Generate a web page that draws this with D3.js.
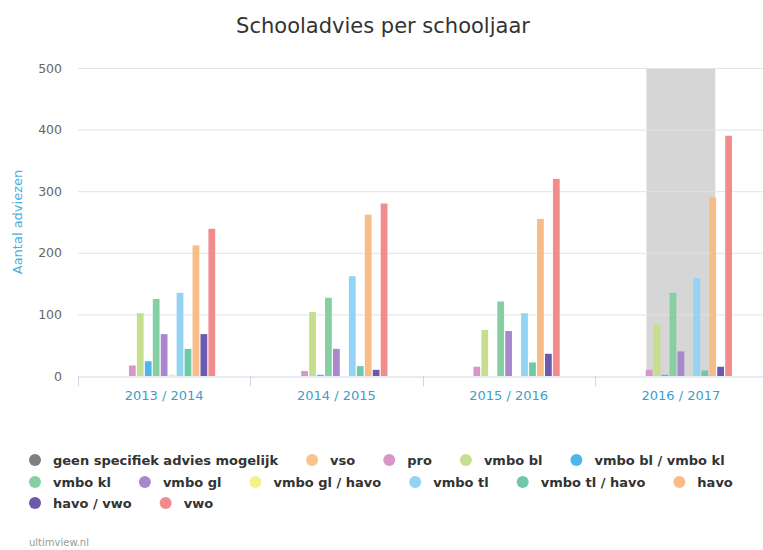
<!DOCTYPE html>
<html><head><meta charset="utf-8">
<script src="https://cdn.jsdelivr.net/npm/d3@7/dist/d3.min.js"></script>
<style>body{margin:0;background:#fff}svg{display:block}</style>
</head><body><svg id="c" width="763" height="550"></svg>
<script>
const categories = ["2013 / 2014", "2014 / 2015", "2015 / 2016", "2016 / 2017"];
const seriesNames = ["geen specifiek advies mogelijk","vso","pro","vmbo bl","vmbo bl / vmbo kl","vmbo kl","vmbo gl","vmbo gl / havo","vmbo tl","vmbo tl / havo","havo","havo / vwo","vwo"];
const seriesColors = ["#7f7f7f","#f9c38c","#d994c8","#c6df8f","#4db6ea","#86cfa2","#a887cc","#f2f28b","#93d4f5","#70c9a6","#f8bd86","#6c58ac","#f28b8c"];
// values per series, per school year
const geen   = [0, 0, 0, 0];
const vso    = [0, 0, 0, 0];
const pro    = [17, 8, 15, 10];
const vmboBl = [102, 104, 75, 84];
const vmboBlKl = [24, 2, 0, 2];
const vmboKl = [125, 127, 121, 135];
const vmboGl = [68, 44, 73, 40];
const vmboGlHavo = [2, 0, 0, 0];
const vmboTl = [135, 162, 102, 159];
const vmboTlHavo = [44, 16, 22, 9];
const havo   = [212, 262, 255, 290];
const havoVwo = [68, 10, 36, 15];
const vwo    = [239, 280, 320, 390];
const yTicks = [0, 100, 200, 300, 400, 500];
const highlightCategory = "2016 / 2017";

const values = [geen, vso, pro, vmboBl, vmboBlKl, vmboKl, vmboGl, vmboGlHavo, vmboTl, vmboTlHavo, havo, havoVwo, vwo];

const svg = d3.select("#c");
const L = 78, R = 767, T = 68, B = 376;
const x = d3.scaleBand().domain(categories).range([L, R]).paddingInner(0).paddingOuter(0);
const y = d3.scaleLinear().domain([0, 500]).range([B, T]);
const inner = d3.scaleBand().domain(seriesNames)
  .range([x.bandwidth()*0.2, x.bandwidth()*0.8]).paddingInner(0.15).paddingOuter(0.075);

// title
svg.append("text").attr("x", 383).attr("y", 33).attr("text-anchor","middle")
  .attr("font-family","DejaVu Sans").attr("font-size",21).attr("fill","#333").text("Schooladvies per schooljaar");

// highlight band
svg.append("rect")
  .attr("x", x(highlightCategory) + x.bandwidth()*0.3).attr("width", x.bandwidth()*0.4)
  .attr("y", y(500)).attr("height", y(0)-y(500)).attr("fill","#d6d6d6");

// grid
svg.append("g").selectAll("line").data(yTicks.filter(d=>d>0)).join("line")
  .attr("x1", L).attr("x2", R).attr("y1", d=>y(d)+0.5).attr("y2", d=>y(d)+0.5)
  .attr("stroke","#e3e3e3").attr("stroke-width",1);

// y axis labels
const yAxis = svg.append("g").attr("transform",`translate(${L-16},0)`)
  .call(d3.axisLeft(y).tickValues(yTicks).tickSize(0).tickPadding(0));
yAxis.select(".domain").remove();
yAxis.selectAll("text").attr("font-family","DejaVu Sans").attr("font-size",12.5).attr("fill","#666");

svg.append("text").attr("transform",`translate(22,${(T+B)/2}) rotate(-90)`).attr("text-anchor","middle")
  .attr("font-family","DejaVu Sans").attr("font-size",13).attr("fill","#4aaedb").text("Aantal adviezen");

// bars
const groups = svg.append("g").selectAll("g").data(seriesNames).join("g").attr("fill",(d,i)=>seriesColors[i]);
groups.selectAll("rect").data((s,i)=>categories.map((c,j)=>({s, c, v: values[i][j]}))).join("rect")
  .attr("x", d=>x(d.c)+inner(d.s)).attr("width", inner.bandwidth())
  .attr("y", d=>y(d.v)).attr("height", d=>y(0)-y(d.v));

// x axis
const xAxis = svg.append("g").attr("transform",`translate(0,${B+0.5})`)
  .call(d3.axisBottom(x).tickSize(0).tickPadding(14));
xAxis.select(".domain").attr("stroke","#ccd6eb");
xAxis.selectAll("text").attr("font-family","DejaVu Sans").attr("font-size",13).attr("fill","#3a9fcc");
svg.append("g").selectAll("line").data(categories).join("line")
  .attr("x1", d=>Math.round(x(d))+0.5).attr("x2", d=>Math.round(x(d))+0.5)
  .attr("y1", B).attr("y2", B+10).attr("stroke","#ccd6eb");

// legend
const lg = svg.append("g");
let lx = 29, row = 0;
const rowY = [460, 482, 503], maxX = 760;
seriesNames.forEach((name, i) => {
  const item = lg.append("g");
  const t = item.append("text").attr("x", 24).attr("y", 5)
    .attr("font-family","DejaVu Sans").attr("font-size",13).attr("font-weight","bold").attr("fill","#333").text(name);
  const w = 24 + t.node().getComputedTextLength();
  if (lx + w > maxX) { row++; lx = 29; }
  item.attr("transform", `translate(${lx},${rowY[row]})`);
  item.append("circle").attr("cx", 6).attr("cy", 0).attr("r", 6).attr("fill", seriesColors[i]);
  lx += w + 28;
});

svg.append("text").attr("x", 29).attr("y", 546).attr("font-family","DejaVu Sans").attr("font-size",10)
  .attr("fill","#999").text("ultimview.nl");
</script></body></html>
